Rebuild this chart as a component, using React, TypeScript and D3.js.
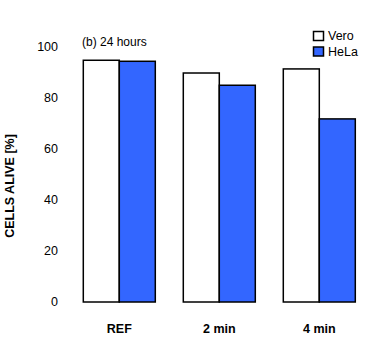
import React, { useEffect, useRef } from 'react';
import * as d3 from 'd3';

const categories = ['REF', '2 min', '4 min'];
const seriesNames = ['Vero', 'HeLa'];
const veroValues = [94.8, 89.8, 91.4];
const helaValues = [94.4, 85.0, 71.8];
const yTicks = [0, 20, 40, 60, 80, 100];
const colors = ['#ffffff', '#3366ff'];

const App: React.FC = () => {
    const chartRef = useRef<SVGSVGElement | null>(null);

    useEffect(() => {
        if (!chartRef.current) return;
        const width = 387;
        const height = 354;
        const font = '"Liberation Sans", Arial, sans-serif';

        d3.select(chartRef.current).selectAll('*').remove();
        const svg = d3.select(chartRef.current)
            .attr('width', width)
            .attr('height', height);

        const x = d3.scaleBand()
            .domain(categories)
            .range([69.3, 369.3])
            .paddingInner(0.28)
            .paddingOuter(0.14);

        const xInner = d3.scaleBand()
            .domain(seriesNames)
            .range([0, x.bandwidth()]);

        const y = d3.scaleLinear()
            .domain([0, 100])
            .range([302, 47]);

        // tick labels only, no axis lines
        svg.selectAll('text.ytick')
            .data(yTicks)
            .enter()
            .append('text')
            .attr('class', 'ytick')
            .attr('x', 58)
            .attr('y', d => y(d))
            .attr('dy', '0.35em')
            .attr('text-anchor', 'end')
            .style('font-family', font)
            .style('font-size', '12.5px')
            .text(d => d);

        svg.selectAll('text.xtick')
            .data(categories)
            .enter()
            .append('text')
            .attr('class', 'xtick')
            .attr('x', d => x(d)! + x.bandwidth() / 2)
            .attr('y', 329)
            .attr('dy', '0.35em')
            .attr('text-anchor', 'middle')
            .style('font-family', font)
            .style('font-size', '12.5px')
            .style('font-weight', 'bold')
            .text(d => d);

        svg.append('text')
            .attr('transform', `translate(14, 186) rotate(-90)`)
            .attr('text-anchor', 'middle')
            .style('font-family', font)
            .style('font-size', '12.5px')
            .style('font-weight', 'bold')
            .text('CELLS ALIVE [%]');

        svg.append('text')
            .attr('x', 82)
            .attr('y', 46)
            .style('font-family', font)
            .style('font-size', '12px')
            .text('(b) 24 hours');

        const series = [veroValues, helaValues];
        seriesNames.forEach((name, si) => {
            svg.selectAll(`rect.bar-${si}`)
                .data(categories)
                .enter()
                .append('rect')
                .attr('class', `bar-${si}`)
                .attr('x', d => x(d)! + xInner(name)!)
                .attr('y', (d, i) => y(series[si][i]))
                .attr('width', xInner.bandwidth())
                .attr('height', (d, i) => y(0) - y(series[si][i]))
                .attr('fill', colors[si])
                .attr('stroke', '#000')
                .attr('stroke-width', 1.5);
        });

        // legend
        const legend = svg.append('g');
        seriesNames.forEach((name, i) => {
            const ly = 36 + i * 15.5;
            legend.append('rect')
                .attr('x', 313.5)
                .attr('y', ly - 4.5)
                .attr('width', 10)
                .attr('height', 9)
                .attr('fill', colors[i])
                .attr('stroke', '#000')
                .attr('stroke-width', 1.5);
            legend.append('text')
                .attr('x', 328)
                .attr('y', ly)
                .attr('dy', '0.35em')
                .style('font-family', font)
                .style('font-size', '12.5px')
                .text(name);
        });
    }, []);

    return <svg ref={chartRef} style={{ position: 'absolute', left: 0, top: 0 }} />;
};

export default App;
